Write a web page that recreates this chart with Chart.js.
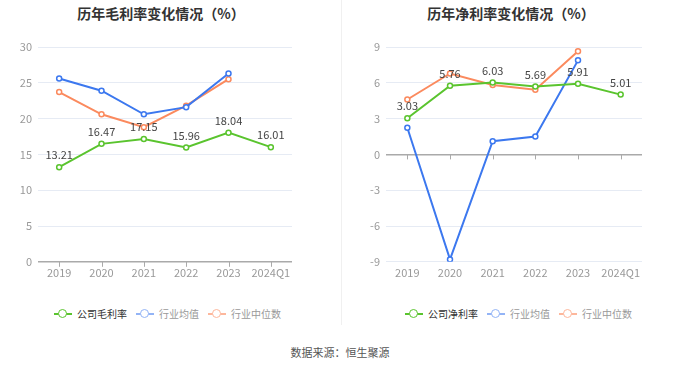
<!DOCTYPE html>
<html>
<head>
<meta charset="utf-8">
<script src="https://cdn.jsdelivr.net/npm/chart.js@4"></script>
<style>
  body { margin: 0; background: #fff; font-family: "Noto Sans CJK SC", "Noto Sans", sans-serif; }
  #wrap { position: relative; width: 680px; height: 367px; overflow: hidden; }
  .title { position: absolute; top: 3px; font-size: 14px; font-weight: bold; color: #333; white-space: nowrap; transform: translateX(-50%); }
  .sep { position: absolute; left: 341px; top: 0; width: 1px; height: 325px; background: #f0f0f0; }
  .legend { position: absolute; top: 307px; font-size: 10px; line-height: 14px; white-space: nowrap; display: flex; align-items: center; }
  .legend .item { display: flex; align-items: center; margin-right: 9px; }
  .legend .icon { position: relative; width: 18px; height: 14px; margin-right: 5px; }
  .legend .icon:before { content: ""; position: absolute; left: 0; right: 0; top: 6px; height: 2px; background: var(--c); }
  .legend .icon:after { content: ""; position: absolute; left: 4px; top: 2px; width: 7px; height: 7px; border: 1.5px solid var(--c); border-radius: 50%; background: #fff; }
  .source { position: absolute; top: 344px; left: 0; width: 680px; text-align: center; font-size: 11px; color: #555; }
  canvas { position: absolute; top: 0; }
</style>
</head>
<body>
<div id="wrap">
  <div class="title" style="left:161px">历年毛利率变化情况（%）</div>
  <div class="title" style="left:511px">历年净利率变化情况（%）</div>
  <canvas id="gross" width="340" height="292" style="left:0"></canvas>
  <canvas id="net" width="340" height="292" style="left:340px"></canvas>
  <div class="sep"></div>
  <div class="legend" style="left:54px">
    <span class="item"><span class="icon" style="--c:#5ac42e"></span><span style="color:#333">公司毛利率</span></span>
    <span class="item"><span class="icon" style="--c:#93b4f6"></span><span style="color:#999">行业均值</span></span>
    <span class="item"><span class="icon" style="--c:#fdb79c"></span><span style="color:#999">行业中位数</span></span>
  </div>
  <div class="legend" style="left:405px">
    <span class="item"><span class="icon" style="--c:#5ac42e"></span><span style="color:#333">公司净利率</span></span>
    <span class="item"><span class="icon" style="--c:#93b4f6"></span><span style="color:#999">行业均值</span></span>
    <span class="item"><span class="icon" style="--c:#fdb79c"></span><span style="color:#999">行业中位数</span></span>
  </div>
  <div class="source">数据来源：恒生聚源</div>
</div>
<script>
const years = ['2019', '2020', '2021', '2022', '2023', '2024Q1'];

// gross margin (%)
const grossCompany = [13.21, 16.47, 17.15, 15.96, 18.04, 16.01];
const grossIndustryAvg = [25.6, 23.9, 20.6, 21.6, 26.3, null];
const grossIndustryMedian = [23.7, 20.6, 18.8, 21.8, 25.5, null];

// net margin (%)
const netCompany = [3.03, 5.76, 6.03, 5.69, 5.91, 5.01];
const netIndustryAvg = [2.23, -8.8, 1.1, 1.5, 7.88, null];
const netIndustryMedian = [4.6, 6.78, 5.81, 5.42, 8.64, null];

const FONT = '"Noto Sans CJK SC", "Noto Sans", sans-serif';
const GREEN = '#5ac42e', BLUE = '#3c78ef', ORANGE = '#fb8a5e';

// value labels over the company line + little tick marks on the zero line
const valueLabels = {
  id: 'valueLabels',
  afterDatasetsDraw(chart) {
    const ctx = chart.ctx;
    const meta = chart.getDatasetMeta(0);
    ctx.save();
    ctx.font = '11px ' + FONT;
    ctx.fillStyle = '#444';
    ctx.textAlign = 'center';
    ctx.textBaseline = 'middle';
    meta.data.forEach((pt, i) => {
      ctx.fillText(chart.data.datasets[0].data[i].toFixed(2), pt.x, pt.y - 12);
    });
    ctx.restore();
  },
  afterDraw(chart) {
    const ctx = chart.ctx, x = chart.scales.x, y = chart.scales.y;
    const y0 = y.getPixelForValue(0);
    ctx.save();
    ctx.strokeStyle = '#aaa';
    ctx.lineWidth = 1;
    years.forEach((_, i) => {
      const px = Math.round(x.getPixelForTick(i)) + 0.5;
      ctx.beginPath();
      ctx.moveTo(px, y0);
      ctx.lineTo(px, y0 + 5);
      ctx.stroke();
    });
    ctx.restore();
  }
};

function makeChart(id, company, avg, median, min, max, step, axisW, padRight) {
  const ds = (data, color) => ({
    data: data,
    borderColor: color,
    backgroundColor: '#fff',
    borderWidth: 2,
    pointRadius: 2.5,
    pointBorderWidth: 1.5,
    pointBackgroundColor: '#fff',
    pointBorderColor: color,
    tension: 0,
    spanGaps: false
  });
  return new Chart(document.getElementById(id), {
    type: 'line',
    data: {
      labels: years,
      datasets: [ds(company, GREEN), ds(avg, BLUE), ds(median, ORANGE)]
    },
    options: {
      responsive: false,
      animation: false,
      layout: { padding: { top: 47, left: 0, right: padRight, bottom: 9 } },
      plugins: { legend: { display: false }, tooltip: { enabled: false } },
      scales: {
        x: {
          offset: true,
          grid: { display: false, drawTicks: false },
          border: { display: false },
          ticks: { color: '#999', font: { size: 11, family: FONT }, padding: 4, maxRotation: 0, minRotation: 0, autoSkip: false }
        },
        y: {
          min: min, max: max,
          afterFit(scale) { scale.width = axisW; },
          grid: {
            drawTicks: false,
            color: ctx => ctx.tick && ctx.tick.value === 0 ? '#aaa' : '#e6ebf4',
            lineWidth: ctx => ctx.tick && ctx.tick.value === 0 ? 1.5 : 1
          },
          border: { display: false },
          ticks: { stepSize: step, color: '#999', font: { size: 11, family: FONT }, padding: 6 }
        }
      }
    },
    plugins: [valueLabels]
  });
}

makeChart('gross', grossCompany, grossIndustryAvg, grossIndustryMedian, 0, 30, 5, 38, 48);
makeChart('net', netCompany, netIndustryAvg, netIndustryMedian, -9, 9, 3, 46, 38);
</script>
</body>
</html>
